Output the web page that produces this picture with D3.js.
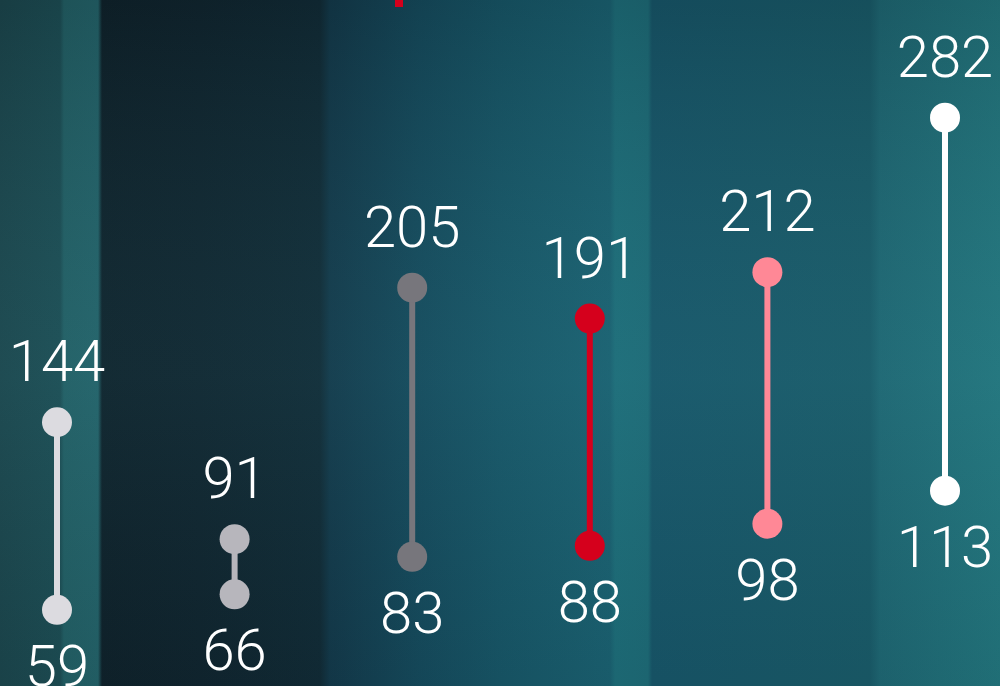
<!DOCTYPE html>
<html>
<head>
<meta charset="utf-8">
<script src="https://cdn.jsdelivr.net/npm/d3@7"></script>
<style>
  html, body { margin: 0; padding: 0; background: #133a46; overflow: hidden; }
  svg { display: block; }
</style>
</head>
<body>
<svg id="chart"></svg>
<script>
// Data
var categories = ["A", "B", "C", "D", "E", "F"];
var highValues = [144, 91, 205, 191, 212, 282];
var lowValues  = [59, 66, 83, 88, 98, 113];
var colors     = ["#dcdbe0", "#b7b6bc", "#77767c", "#d5001c", "#ff8896", "#ffffff"];

var width = 1000, height = 686;

var svg = d3.select("#chart")
    .attr("width", width)
    .attr("height", height);

// Background: striped teal photo-like backdrop
var defs = svg.append("defs");
var bgGrad = defs.append("linearGradient")
    .attr("id", "bg-h")
    .attr("x1", "0").attr("x2", "1").attr("y1", "0").attr("y2", "0");
[
    [0.000, "#1b454c"], [0.060, "#1c4c53"], [0.064, "#225e64"], [0.098, "#236168"],
    [0.102, "#0f222b"], [0.200, "#10252f"], [0.320, "#112b36"], [0.330, "#13394a"],
    [0.420, "#154a5c"], [0.500, "#175566"], [0.610, "#1a6070"], [0.615, "#1d6c78"],
    [0.648, "#1d6a76"], [0.652, "#175568"], [0.870, "#195a68"], [0.880, "#1e6672"],
    [1.000, "#22747c"]
].forEach(function(s) {
    bgGrad.append("stop").attr("offset", s[0]).attr("stop-color", s[1]);
});

var shade = defs.append("linearGradient")
    .attr("id", "bg-v")
    .attr("x1", "0").attr("x2", "0").attr("y1", "0").attr("y2", "1");
shade.append("stop").attr("offset", 0).attr("stop-color", "#000").attr("stop-opacity", 0.12);
shade.append("stop").attr("offset", 0.55).attr("stop-color", "#5fb8c0").attr("stop-opacity", 0.06);
shade.append("stop").attr("offset", 1).attr("stop-color", "#000").attr("stop-opacity", 0.05);

svg.append("rect").attr("width", width).attr("height", height).attr("fill", "url(#bg-h)");
svg.append("rect").attr("width", width).attr("height", height).attr("fill", "url(#bg-v)");

// cut-off red mark at the top edge
svg.append("rect")
    .attr("x", 395).attr("y", 0)
    .attr("width", 8).attr("height", 7)
    .attr("fill", "#d5001c");

// Scales
var x = d3.scalePoint()
    .domain(categories)
    .range([57, 945]);

var y = d3.scaleLinear()
    .domain([0, 300])
    .range([740, 78]);

var rows = categories.map(function(c, i) {
    return { cat: c, hi: highValues[i], lo: lowValues[i], color: colors[i] };
});

var g = svg.append("g");

var item = g.selectAll(".dumbbell")
    .data(rows)
    .enter().append("g")
    .attr("class", "dumbbell");

item.append("line")
    .attr("x1", d => x(d.cat))
    .attr("x2", d => x(d.cat))
    .attr("y1", d => y(d.hi))
    .attr("y2", d => y(d.lo))
    .attr("stroke", d => d.color)
    .attr("stroke-width", 6);

item.append("circle")
    .attr("cx", d => x(d.cat))
    .attr("cy", d => y(d.hi))
    .attr("r", 15)
    .attr("fill", d => d.color);

item.append("circle")
    .attr("cx", d => x(d.cat))
    .attr("cy", d => y(d.lo))
    .attr("r", 15)
    .attr("fill", d => d.color);

item.append("text")
    .attr("x", d => x(d.cat))
    .attr("y", d => y(d.hi) - 41)
    .attr("text-anchor", "middle")
    .style("font-family", "Roboto, 'Noto Sans', sans-serif")
    .style("font-weight", 300)
    .style("font-size", "58px")
    .style("fill", "#ffffff")
    .text(d => d.hi);

item.append("text")
    .attr("x", d => x(d.cat))
    .attr("y", d => y(d.lo) + 76)
    .attr("text-anchor", "middle")
    .style("font-family", "Roboto, 'Noto Sans', sans-serif")
    .style("font-weight", 300)
    .style("font-size", "58px")
    .style("fill", "#ffffff")
    .text(d => d.lo);
</script>
</body>
</html>
